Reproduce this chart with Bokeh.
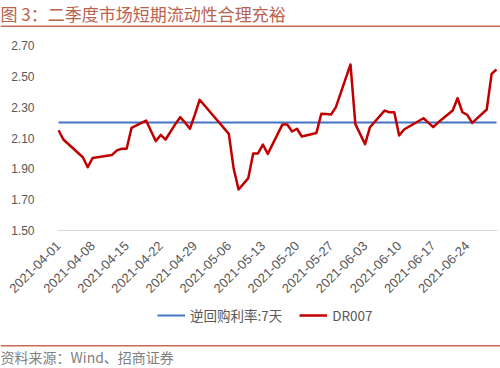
import pandas as pd
from bokeh.plotting import figure
from bokeh.layouts import column
from bokeh.models import (Range1d, FixedTicker, DatetimeTickFormatter, PrintfTickFormatter,
                          Legend, LegendItem, Label, BoxAnnotation)
from bokeh.embed import file_html
from bokeh.resources import INLINE

title_text = "图 3：二季度市场短期流动性合理充裕"
source_text = "资料来源：Wind、招商证券"
series_names = ["逆回购利率:7天", "DR007"]

dates = ["2021-04-01", "2021-04-02", "2021-04-06", "2021-04-07", "2021-04-08", "2021-04-09",
         "2021-04-12", "2021-04-13", "2021-04-14", "2021-04-15", "2021-04-16", "2021-04-19",
         "2021-04-20", "2021-04-21", "2021-04-22", "2021-04-23", "2021-04-25", "2021-04-26",
         "2021-04-27", "2021-04-28", "2021-04-29", "2021-04-30",
         "2021-05-06", "2021-05-07", "2021-05-08", "2021-05-10", "2021-05-11", "2021-05-12",
         "2021-05-13", "2021-05-14", "2021-05-17", "2021-05-18", "2021-05-19", "2021-05-20",
         "2021-05-21", "2021-05-24", "2021-05-25", "2021-05-26", "2021-05-27", "2021-05-28",
         "2021-05-31",
         "2021-06-01", "2021-06-02", "2021-06-03", "2021-06-04", "2021-06-07", "2021-06-08",
         "2021-06-09", "2021-06-10", "2021-06-11", "2021-06-15", "2021-06-16", "2021-06-17",
         "2021-06-18", "2021-06-21", "2021-06-22", "2021-06-23", "2021-06-24", "2021-06-25",
         "2021-06-28", "2021-06-29", "2021-06-30"]

dr007 = [2.150, 2.090, 1.975, 1.910, 1.970, 1.975, 1.990, 2.020, 2.030, 2.030, 2.165, 2.213,
         2.145, 2.080, 2.120, 2.090, 2.190, 2.235, 2.200, 2.160, 2.250, 2.348,
         2.127, 1.900, 1.766, 1.840, 2.000, 2.000, 2.058, 1.997, 2.187, 2.187, 2.142, 2.160,
         2.110, 2.133, 2.257, 2.255, 2.252, 2.300, 2.577,
         2.190, 2.125, 2.060, 2.170, 2.278, 2.267, 2.267, 2.116, 2.155, 2.228, 2.200, 2.170,
         2.200, 2.278, 2.358, 2.267, 2.250, 2.198, 2.285, 2.516, 2.544]

reverse_repo_7d = [2.20] * len(dates)

x_tick_labels = ["2021-04-01", "2021-04-08", "2021-04-15", "2021-04-22", "2021-04-29",
                 "2021-05-06", "2021-05-13", "2021-05-20", "2021-05-27", "2021-06-03",
                 "2021-06-10", "2021-06-17", "2021-06-24"]
y_ticks = [1.50, 1.70, 1.90, 2.10, 2.30, 2.50, 2.70]

x = pd.to_datetime(dates)
tick_ms = [pd.Timestamp(d).value / 1e6 for d in x_tick_labels]

W = 500
TITLE_H, MAIN_H, LEG_H, SRC_H = 28, 272, 33, 35
RULE_COLOR = "#C96A55"
BLUE, RED = "#4472C4", "#C00000"


def no_align(f):
    if "frame_align" in f.properties():
        f.frame_align = False
    return f


def blank_fig(h):
    f = figure(width=W, height=h, output_backend="svg", toolbar_location=None,
               x_range=Range1d(0, W), y_range=Range1d(h, 0),
               min_border=0, min_border_left=0, min_border_right=0,
               min_border_top=0, min_border_bottom=0)
    f.axis.visible = False
    f.grid.visible = False
    f.outline_line_color = None
    f.background_fill_color = "white"
    f.border_fill_color = "white"
    return no_align(f)


# ---- title strip
tf = blank_fig(TITLE_H)
tf.add_layout(Label(x=0, y=13, text=title_text, text_font="Noto Sans CJK SC",
                    text_font_size="17px", text_color="#B8634E",
                    text_baseline="middle", text_align="left"))
tf.add_layout(BoxAnnotation(top=25, bottom=26.6, fill_color=RULE_COLOR, fill_alpha=1,
                            line_color=None))

# ---- main chart
FL, FR, FT, FB = 57, 497, 17, 202
p = figure(width=W, height=MAIN_H, x_axis_type="datetime", output_backend="svg",
           toolbar_location=None,
           x_range=Range1d(pd.Timestamp(dates[0]) - pd.Timedelta(hours=5),
                           pd.Timestamp(dates[-1]) + pd.Timedelta(hours=5)),
           y_range=Range1d(1.5, 2.7),
           min_border_left=FL, min_border_right=W - FR,
           min_border_top=FT, min_border_bottom=MAIN_H - FB)
no_align(p)
p.outline_line_color = None
p.background_fill_color = "white"
p.border_fill_color = "white"
p.xgrid.visible = False
p.ygrid.visible = False

xa = p.xaxis[0]
xa.ticker = FixedTicker(ticks=tick_ms)
fmt = "%Y-%m-%d"
xa.formatter = DatetimeTickFormatter(days=fmt, months=fmt, years=fmt, hours=fmt,
                                     hourmin=fmt, minutes=fmt, minsec=fmt, seconds=fmt,
                                     milliseconds=fmt, microseconds=fmt)
xa.major_label_orientation = 0.785398
xa.axis_line_color = "#D9D9D9"
xa.axis_line_width = 1
xa.major_tick_line_color = None
xa.minor_tick_line_color = None
xa.major_label_standoff = 7
xa.major_label_text_font = "Liberation Sans"
xa.major_label_text_font_size = "13px"
xa.major_label_text_color = "#595959"

ya = p.yaxis[0]
ya.ticker = FixedTicker(ticks=y_ticks)
ya.formatter = PrintfTickFormatter(format="%.2f")
ya.axis_line_color = None
ya.major_tick_line_color = None
ya.minor_tick_line_color = None
ya.major_label_standoff = 17
ya.major_label_text_font = "Liberation Sans"
ya.major_label_text_font_size = "12px"
ya.major_label_text_color = "#595959"

p.line(x, reverse_repo_7d, line_color=BLUE, line_width=2)
p.line(x, dr007, line_color=RED, line_width=2.5, line_join="round")

# ---- legend strip: keys carry the series with the same styles; the data lie
# outside this strip's ranges, so only the legend keys show here.
lf = blank_fig(LEG_H)
k1 = lf.line(x, reverse_repo_7d, line_color=BLUE, line_width=2)
k2 = lf.line(x, dr007, line_color=RED, line_width=2.5)
legend = Legend(items=[LegendItem(label=series_names[0], renderers=[k1]),
                       LegendItem(label=series_names[1], renderers=[k2])],
                orientation="horizontal", location=(157, 8),
                glyph_width=28, glyph_height=16, label_height=16,
                label_standoff=5, spacing=17, padding=0, margin=0,
                border_line_color=None, background_fill_alpha=0,
                label_text_font="Noto Sans CJK SC", label_text_font_size="13.5px",
                label_text_color="#595959")
lf.add_layout(legend, "center")

# ---- source strip
sf = blank_fig(SRC_H)
sf.add_layout(BoxAnnotation(top=11.5, bottom=13.1, fill_color=RULE_COLOR, fill_alpha=1,
                            line_color=None))
sf.add_layout(Label(x=0, y=23, text=source_text, text_font="Noto Sans CJK SC",
                    text_font_size="14px", text_color="#7F7F7F",
                    text_baseline="middle", text_align="left"))

layout = column(tf, p, lf, sf, spacing=0)
open("out.html", "w").write(file_html(layout, INLINE))
